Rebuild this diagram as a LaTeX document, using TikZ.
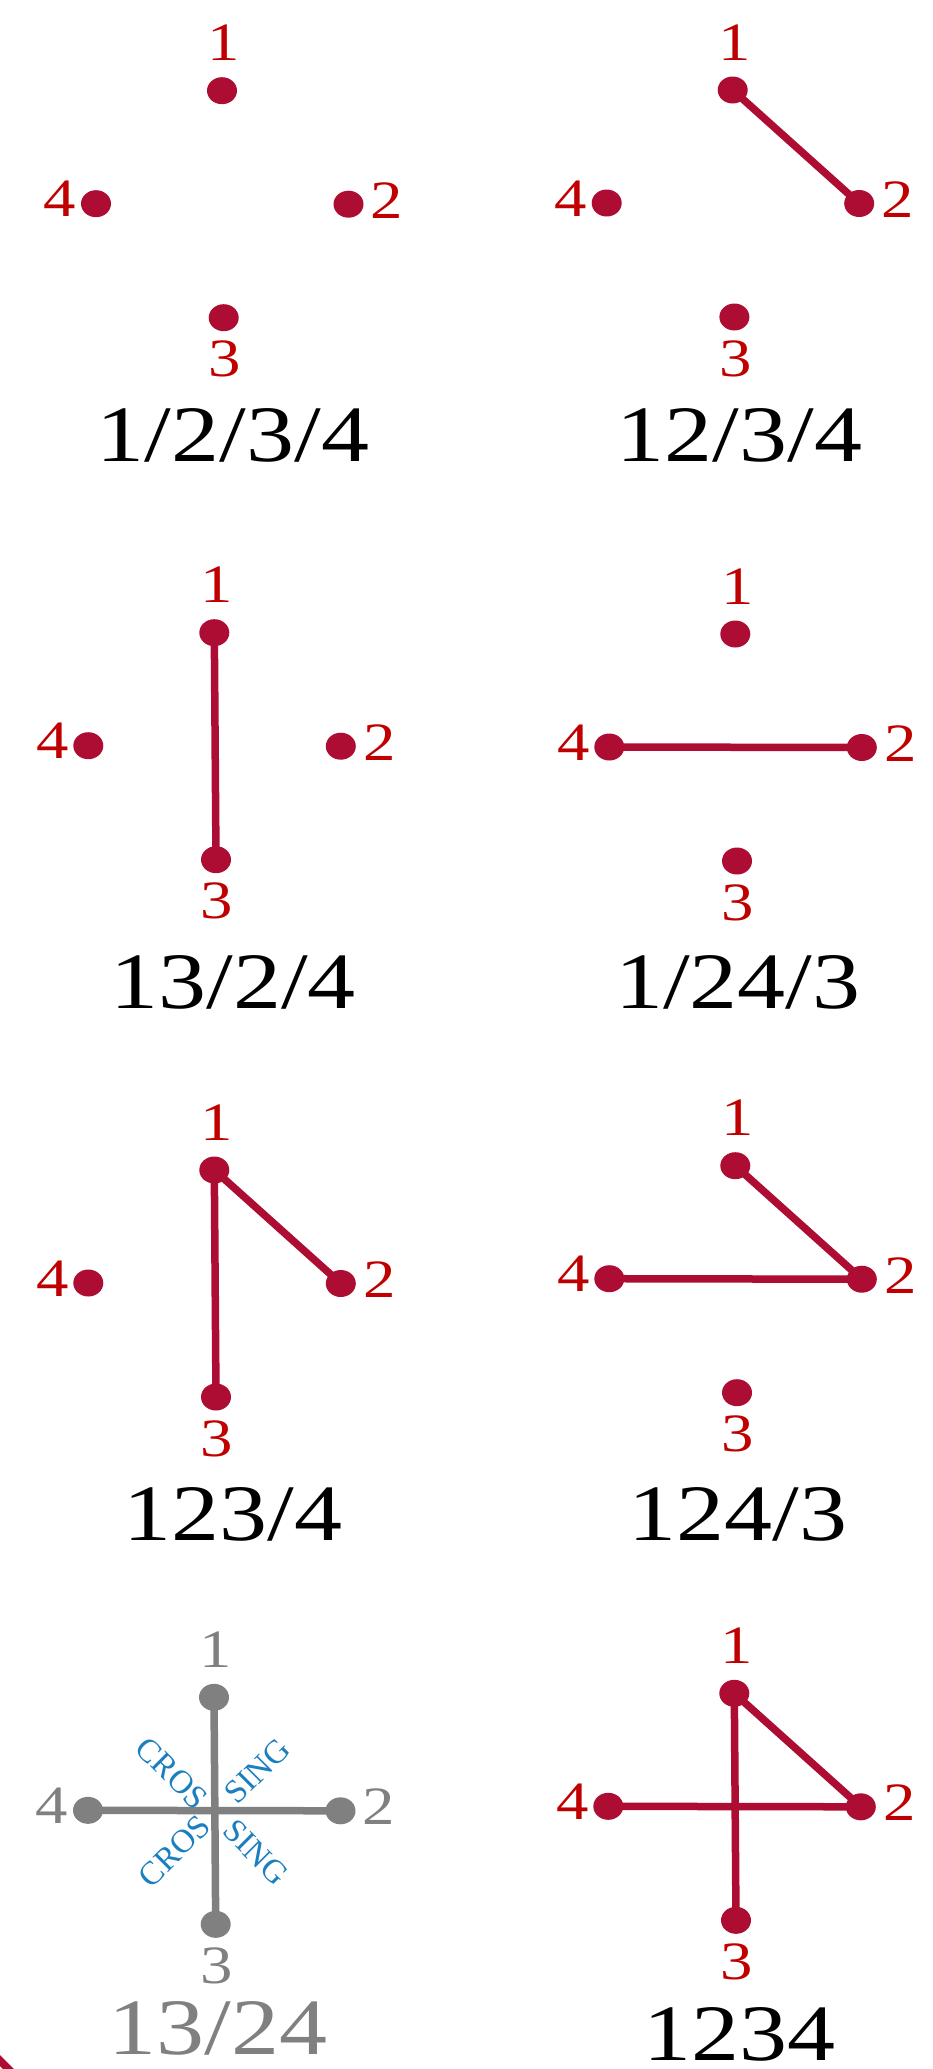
\documentclass[tikz,border=0pt]{standalone}
\usepackage{fontspec}
\setmainfont{Liberation Serif}[FakeStretch=1.2]
\newfontfamily\crossfont{Liberation Serif}
\usepackage{tikz}
\usetikzlibrary{shapes.geometric}
\definecolor{pt-dot}{HTML}{AD0D33}
\definecolor{pt-label}{HTML}{C00000}
\definecolor{pt-grey}{HTML}{808080}
\definecolor{pt-blue}{HTML}{1A7FBF}

\begin{document}
\begin{tikzpicture}[x=1pt, y=-1pt,
    vertex/.style={ellipse, fill=#1, minimum width=30pt, minimum height=27pt, inner sep=0pt},
    vertex/.default=pt-dot,
    num/.style={anchor=base, text=#1, font=\fontsize{54}{54}\selectfont, inner sep=0pt},
    num/.default=pt-label,
    block/.style={line width=7.5pt, draw=#1},
    block/.default=pt-dot,
    caption/.style={anchor=base, font=\fontsize{80}{80}\selectfont, inner sep=0pt},
    cross/.style={text=pt-blue, font=\crossfont\fontsize{33}{33}\selectfont, inner sep=0pt}]
    \useasboundingbox (0,0) rectangle (932,2069);
    % Four points per panel
    \foreach \p/\x/\y/\c/\t in {a/222/90.7/pt-dot/pt-label, b/732.7/90/pt-dot/pt-label,
        c/214.3/632.7/pt-dot/pt-label, d/735.3/634/pt-dot/pt-label,
        e/214.3/1170/pt-dot/pt-label, f/735.3/1165.7/pt-dot/pt-label,
        g/214/1697.3/pt-grey/pt-grey, h/734.3/1693.3/pt-dot/pt-label}{
        \node[vertex=\c] (\p1) at (\x,\y) {};
        \node[vertex=\c] (\p2) at (\x+126.5,\y+113.5) {};
        \node[vertex=\c] (\p3) at (\x+1.7,\y+227) {};
        \node[vertex=\c] (\p4) at (\x-126,\y+113) {};
        \node[num=\t] (\p1l) at (\x+2,\y-30) {1};
        \node[num=\t] (\p2l) at (\x+165,\y+127.5) {2};
        \node[num=\t] (\p3l) at (\x+2.7,\y+286) {3};
        \node[num=\t] (\p4l) at (\x-162,\y+126) {4};
    }
    % Blocks
    \draw[block] (b1.center) -- (b2.center);
    \draw[block] (c1.center) -- (c3.center);
    \draw[block] (d4.center) -- (d2.center);
    \draw[block] (e1.center) -- (e2.center);
    \draw[block] (e1.center) -- (e3.center);
    \draw[block] (f1.center) -- (f2.center);
    \draw[block] (f4.center) -- (f2.center);
    \draw[block=pt-grey] (g1.center) -- (g3.center);
    \draw[block=pt-grey] (g4.center) -- (g2.center);
    \draw[block] (h1.center) -- (h2.center);
    \draw[block] (h4.center) -- (h2.center);
    \draw[block] (h1.center) -- (h3.center);
    % Crossing marks
    \node[cross, rotate=-45] (crossul) at (172,1773) {CROS};
    \node[cross, rotate=45] (crossur) at (257.5,1771) {SING};
    \node[cross, rotate=45] (crossll) at (174.5,1851) {CROS};
    \node[cross, rotate=-45] (crosslr) at (256,1852.5) {SING};
    % Captions
    \node[caption] (capa) at (233,461.7) {1/2/3/4};
    \node[caption] (capb) at (739.3,461.7) {12/3/4};
    \node[caption] (capc) at (233,1008.3) {13/2/4};
    \node[caption] (capd) at (737.7,1008.3) {1/24/3};
    \node[caption] (cape) at (233,1540) {123/4};
    \node[caption] (capf) at (737.7,1540) {124/3};
    \node[caption, text=pt-grey] (capg) at (218.3,2054) {13/24};
    \node[caption] (caph) at (739.7,2060) {1234};
    \fill[pt-dot] (0,2055) -- (14,2069) -- (3,2069) -- (0,2066) -- cycle;
\end{tikzpicture}
\end{document}
